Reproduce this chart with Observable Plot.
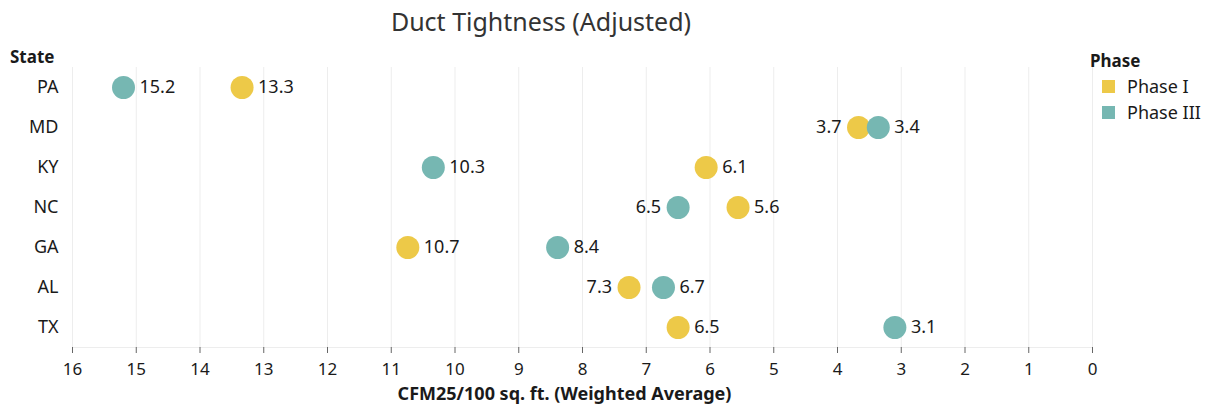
<!DOCTYPE html>
<html>
<head>
<meta charset="utf-8">
<script src="https://cdn.jsdelivr.net/npm/d3@7"></script>
<script src="https://cdn.jsdelivr.net/npm/@observablehq/plot@0.6"></script>
<style>
  body { margin: 0; background: #fff; font-family: "Noto Sans", sans-serif; }
  #wrap { position: relative; width: 1209px; height: 405px; overflow: hidden; }
  #title { position: absolute; left: 0; width: 1082px; top: 4px; text-align: center; font-size: 25px; color: #333; }
  #state { position: absolute; left: 10px; top: 45px; font-size: 17px; font-weight: bold; color: #1a1a1a; }
  #legend { position: absolute; left: 1090px; top: 49px; font-size: 18px; color: #1a1a1a; }
  #legend .h { font-weight: bold; font-size: 17px; margin-bottom: 1px; }
  #legend .row { display: flex; align-items: center; height: 26px; }
  #legend .sw { width: 13px; height: 13px; margin: 0 12px 0 12px; }
  #chart { position: absolute; left: 0; top: 0; }
</style>
</head>
<body>
<div id="wrap">
  <div id="chart"></div>
  <div id="title">Duct Tightness (Adjusted)</div>
  <div id="state">State</div>
  <div id="legend"></div>
</div>
<script>
const states = ["PA", "MD", "KY", "NC", "GA", "AL", "TX"];
const phases = ["Phase I", "Phase III"];
const phaseI   = [13.34, 3.67, 6.06, 5.56, 10.74, 7.27, 6.5];
const phaseIII = [15.2, 3.36, 10.34, 6.5, 8.39, 6.73, 3.1];
const colors = ["#EDC948", "#76B7B2"];
const xTicks = d3.range(0, 17);

const data = [];
states.forEach((s, i) => {
  data.push({state: s, phase: phases[0], value: phaseI[i], other: phaseIII[i]});
  data.push({state: s, phase: phases[1], value: phaseIII[i], other: phaseI[i]});
});
// label goes left when the other dot sits just to its right (reversed axis => smaller value, close)
data.forEach(d => { d.left = d.value > d.other && d.value - d.other < 1; d.label = d.value.toFixed(1); });

const chart = Plot.plot({
  width: 1209,
  height: 405,
  marginLeft: 72,
  marginRight: 117,
  marginTop: 67,
  marginBottom: 58,
  style: {fontFamily: "Noto Sans, sans-serif", fontSize: "18px", color: "#1a1a1a", background: "transparent"},
  x: {domain: [16, 0], ticks: xTicks, label: null},
  y: {type: "point", domain: states, padding: 0.5, label: null},
  color: {domain: phases, range: colors},
  marks: [
    Plot.gridX(xTicks, {stroke: "#ededed", strokeOpacity: 1, strokeWidth: 1}),
    Plot.frame({anchor: "bottom", stroke: "#ededed", strokeWidth: 1}),
    Plot.axisX(xTicks, {tickSize: 6, tickPadding: 9, stroke: "#666", fontSize: 17, fill: "#1a1a1a", tickFormat: d => String(d), label: null}),
    Plot.axisY(states, {tickSize: 0, tickPadding: 14, fontSize: 18, fill: "#1a1a1a", label: null}),
    Plot.text(["CFM25/100 sq. ft. (Weighted Average)"], {frameAnchor: "bottom", lineAnchor: "bottom", dx: -18, dy: 52, fontWeight: "bold", fontSize: 18, fill: "#1a1a1a", text: d => d}),
    Plot.dot(data, {x: "value", y: "state", r: 11.5, fill: "phase", stroke: "none"}),
    Plot.text(data.filter(d => !d.left), {x: "value", y: "state", text: "label", dx: 16, textAnchor: "start", fontSize: 18, fill: "#1a1a1a"}),
    Plot.text(data.filter(d => d.left), {x: "value", y: "state", text: "label", dx: -17, textAnchor: "end", fontSize: 18, fill: "#1a1a1a"})
  ]
});
document.getElementById("chart").appendChild(chart);

const legend = document.getElementById("legend");
legend.innerHTML = '<div class="h">Phase</div>' + phases.map((p, i) =>
  `<div class="row"><span class="sw" style="background:${colors[i]}"></span>${p}</div>`).join("");
</script>
</body>
</html>
